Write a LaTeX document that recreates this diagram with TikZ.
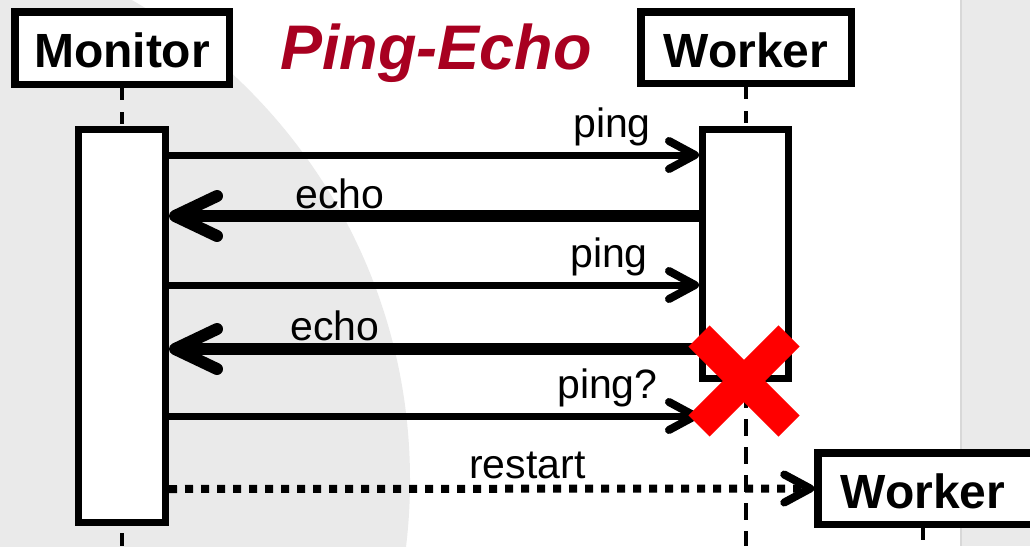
\documentclass[tikz,border=0pt]{standalone}
\usepackage{fontspec}
\setmainfont{Liberation Sans}
\usetikzlibrary{arrows.meta}
\definecolor{bggray}{HTML}{EAEAEA}
\definecolor{edgegray}{HTML}{D8D8D8}
\definecolor{titlered}{RGB}{168,0,32}
\definecolor{crossred}{HTML}{FF0000}

\begin{document}
\begin{tikzpicture}[x=1pt,y=-1pt,
  actor/.style={draw=black, line width=7.5pt, fill=white, inner sep=0pt,
    minimum width=212pt, minimum height=72pt,
    font=\fontsize{48}{48}\selectfont\bfseries, text height=39pt, text depth=0pt},
  activation/.style={draw=black, line width=7pt, fill=white, inner sep=0pt},
  toplife/.style={line width=4pt, dash pattern=on 12pt off 12pt},
  lifeline/.style={line width=4pt, dash pattern=on 17pt off 11pt},
  msg/.style={line width=7pt,
    -{Straight Barb[length=26pt,width=28pt,line width=8pt,round]}},
  reply/.style={line width=12pt,
    -{Straight Barb[length=42pt,width=40pt,line width=12pt,round]}},
  create/.style={line width=8pt, dash pattern=on 8pt off 8pt,
    -{Straight Barb[length=26pt,width=28pt,line width=8pt,round]}},
  lbl/.style={font=\fontsize{41}{41}\selectfont, inner sep=0pt, anchor=base west},
  cross/.style={line width=30pt, draw=crossred},
]
% canvas and backdrop
\useasboundingbox (0,0) rectangle (1030,546);
\fill[white] (0,0) rectangle (1030,546);
\fill[bggray] (-143,480) circle[radius=553];
\fill[bggray] (961,0) rectangle (1030,546);
\draw[edgegray, line width=1.2pt] (961,0) -- (961,546);

% title
\node[anchor=base west, inner sep=0pt, text=titlered,
      font=\fontsize{63}{63}\selectfont\bfseries\itshape] (title) at (280,69) {Ping-Echo};

% participants
\node[actor, minimum width=214.5pt, minimum height=72.5pt] (mon) at (122,48) {Monitor};
\node[actor, minimum width=210.5pt, minimum height=71.5pt] (wrk) at (746,47.5) {Worker};

% activation bars
\node[activation, minimum width=87pt, minimum height=393pt] (mact) at (122,326) {};
\node[activation, minimum width=86pt, minimum height=249pt] (wact) at (745.5,254) {};

% message rows
\coordinate (r1) at (0,155);
\coordinate (r2) at (0,216);
\coordinate (r3) at (0,285);
\coordinate (r4) at (0,349);
\coordinate (r5) at (0,416);
\coordinate (r6) at (0,489);
\coordinate (bottom) at (0,546);

% replacement worker (runs off the right edge; its text sits left of centre)
\node[actor, minimum width=260pt, minimum height=71.5pt] (wrk2) at (948,488.5) {\hspace*{-50pt}Worker};
\coordinate (w2life) at ([xshift=-25pt]wrk2.south);

% lifelines
\draw[toplife] (mon.south) -- (mact.north);
\draw[toplife] (wrk.south) -- (wrk.south |- wact.north);
\draw[lifeline, dash phase=21pt] (mact.south) -- (mact.south |- bottom);
\draw[lifeline, dash phase=19pt] (wact.south) -- (wact.south |- bottom);
\draw[toplife] (w2life) -- (w2life |- bottom);

% redraw the bars over the lifelines
\node[activation, minimum width=87pt, minimum height=393pt] at (mact) {};
\node[activation, minimum width=86pt, minimum height=249pt] at (wact) {};

% messages
\draw[msg] (r1 -| mact.east) -- (r1 -| wact.west);
\draw[reply] (r2 -| wact.west) -- (r2 -| mact.east);
\draw[msg] (r3 -| mact.east) -- (r3 -| wact.west);
\draw[reply] (r4 -| wact.west) -- (r4 -| mact.east);
\draw[msg] (r5 -| mact.east) -- (r5 -| wact.west);
\draw[create] (r6 -| mact.east) -- (wrk2.west);

% message labels
\node[lbl] (l1) at (573,137) {ping};
\node[lbl] (l2) at (295,208) {echo};
\node[lbl] (l3) at (570,267) {ping};
\node[lbl] (l4) at (290,340) {echo};
\node[lbl] (l5) at (557,398) {ping?};
\node[lbl] (l6) at (469,478) {restart};

% worker failure mark
\coordinate (xc) at (744,381);
\draw[cross] ([shift={(-45,-45)}]xc) -- ([shift={(45,45)}]xc);
\draw[cross] ([shift={(-45,45)}]xc) -- ([shift={(45,-45)}]xc);
\end{tikzpicture}
\end{document}
